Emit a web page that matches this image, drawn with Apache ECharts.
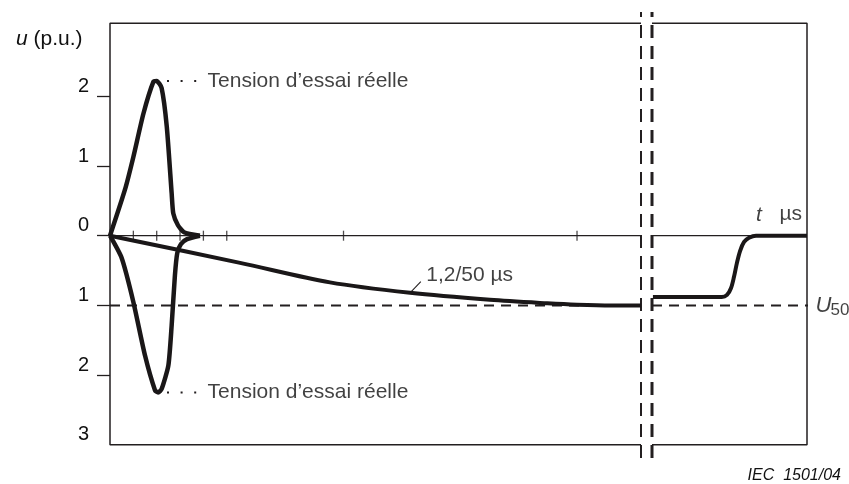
<!DOCTYPE html>
<html>
<head>
<meta charset="utf-8">
<script src="https://cdn.jsdelivr.net/npm/echarts@6/dist/echarts.min.js"></script>
<style>
  html, body { margin: 0; padding: 0; background: #ffffff; }
  #chart { width: 849px; height: 484px; }
</style>
</head>
<body>
<div id="chart"></div>
<script>
// ---------- data ----------
// left panel: time in µs, voltage in p.u.
const leftTMax = 22.74;
const yTickValues = [2, 1, 0, -1, -2];
const yLabelValues = [2, 1, 0, -1, -2, -3];
const zeroTicksT = [1, 2, 3, 4, 5, 10, 20];

const posTestT = [0, 0.64, 1.0, 1.43, 1.86, 2.0, 2.21, 2.43, 2.64, 2.71, 2.91, 3.17, 3.85];
const posTestU = [0, 0.66, 1.13, 1.75, 2.21, 2.22, 2.12, 1.57, 0.61, 0.32, 0.15, 0.05, 0];

const negTestT = [0, 0.5, 1.0, 1.5, 1.93, 2.06, 2.21, 2.5, 2.64, 2.78, 2.88, 3.04, 3.30, 3.85];
const negTestU = [0, -0.32, -0.95, -1.72, -2.22, -2.25, -2.20, -1.86, -1.29, -0.57, -0.25, -0.12, -0.05, 0];

const impulseT = [0, 5.57, 9.42, 12.85, 16.27, 18.72, 20.0, 21.5, 22.74];
const impulseU = [0, -0.39, -0.67, -0.82, -0.92, -0.97, -0.99, -1.0, -1.0];

// right panel (after the time break): arbitrary time units
const rightTMax = 10;
const lateT = [0.06, 4.5, 4.84, 5.10, 5.29, 5.48, 5.68, 5.94, 6.26, 6.71, 10];
const lateU = [-0.88, -0.88, -0.85, -0.75, -0.59, -0.39, -0.22, -0.09, -0.03, 0, 0];

const u50 = -1;
const frameTop = 3.05, frameBottom = -3;
const yMin = -3.19, yMax = 3.21;

const labelTest = 'Tension d’essai réelle';
const labelImpulse = '1,2/50 µs';

// ---------- helpers ----------
const FONT = '"Liberation Sans", Arial, sans-serif';
const INK = '#231f20';
const TXT = '#111111';
const zip = (a, b) => a.map((v, i) => [v, b[i]]);

function seg(data, grid, style, z) {
  return {
    type: 'line', xAxisIndex: grid, yAxisIndex: grid, data: data,
    symbol: 'none', silent: true, clip: false, animation: false, z: z || 2,
    lineStyle: Object.assign({ color: INK, width: 1.5 }, style)
  };
}
function textPoint(pt, grid, label) {
  return {
    type: 'scatter', xAxisIndex: grid, yAxisIndex: grid, symbolSize: 1,
    itemStyle: { color: 'rgba(0,0,0,0)' }, silent: true, animation: false, z: 5,
    data: [{ value: pt, label: Object.assign({
      show: true, color: TXT, fontFamily: FONT, fontSize: 21
    }, label) }]
  };
}

const series = [
  // frame, left panel
  seg([[leftTMax, frameTop], [0, frameTop], [0, frameBottom], [leftTMax, frameBottom]], 0, { width: 1.5 }),
  // frame, right panel
  seg([[0, frameTop], [rightTMax, frameTop], [rightTMax, frameBottom], [0, frameBottom]], 1, { width: 1.5 }),
  // break lines
  seg([[leftTMax, yMin], [leftTMax, yMax]], 0, { width: 2, type: [13, 8] }),
  seg([[0, yMin], [0, yMax]], 1, { width: 3, type: [13, 8] }),
  // zero lines
  seg([[0, 0], [leftTMax, 0]], 0, { width: 1.3 }),
  seg([[0, 0], [rightTMax, 0]], 1, { width: 1.3 }),
  // U50 level
  seg([[0, u50], [leftTMax, u50]], 0, { width: 2, type: [10, 7] }),
  seg([[0, u50], [rightTMax + 0.2, u50]], 1, { width: 2, type: [10, 7] }),
  // time ticks on the zero line
  {
    type: 'scatter', xAxisIndex: 0, yAxisIndex: 0, silent: true, animation: false,
    symbol: 'rect', symbolSize: [1.3, 10], itemStyle: { color: INK }, z: 3,
    data: zeroTicksT.map(t => [t, 0])
  },
  // curves
  Object.assign(seg(zip(impulseT, impulseU), 0, { width: 4, color: '#1a1718' }, 4), { smooth: 0.3 }),
  Object.assign(seg(zip(posTestT, posTestU), 0, { width: 4.5, join: 'round', color: '#1a1718' }, 4), { smooth: 0.2 }),
  Object.assign(seg(zip(negTestT, negTestU), 0, { width: 4.5, join: 'round', color: '#1a1718' }, 4), { smooth: 0.2 }),
  Object.assign(seg(zip(lateT, lateU), 1, { width: 4, color: '#1a1718' }, 4), { smooth: 0.3 }),
  // dotted leaders to labels
  seg([[2.441, 2.22], [3.77, 2.22]], 0, { width: 2, type: [2, 11.6] }),
  seg([[2.441, -2.25], [3.77, -2.25]], 0, { width: 2, type: [2, 11.6] }),
  seg([[12.85, -0.82], [13.31, -0.66]], 0, { width: 1.1 }),
  // labels
  textPoint([3.77, 2.22], 0, { position: 'right', distance: 9, formatter: labelTest }),
  textPoint([3.77, -2.25], 0, { position: 'right', distance: 9, formatter: labelTest }),
  textPoint([13.31, -0.66], 0, { position: 'right', distance: 5, offset: [0, -6], formatter: labelImpulse }),
  textPoint([9.68, 0], 1, {
    position: 'top', align: 'right', distance: 10,
    formatter: '{i|t}   µs',
    rich: { i: { fontStyle: 'italic', fontSize: 21, fontFamily: FONT, color: TXT } }
  }),
  textPoint([rightTMax, u50], 1, { position: 'right', distance: 8, fontStyle: 'italic', fontSize: 22, formatter: 'U' }),
  textPoint([rightTMax, u50], 1, { position: 'right', distance: 23, offset: [0, 5], fontSize: 17, formatter: '50' })
];

const hiddenAxis = {
  axisLine: { show: false }, axisTick: { show: false },
  axisLabel: { show: false }, splitLine: { show: false }
};

const chart = echarts.init(document.getElementById('chart'), null, { renderer: 'canvas' });
chart.setOption({
  animation: false,
  backgroundColor: '#ffffff',
  title: [
    {
      text: '{i|u} (p.u.)', left: 11, top: 24,
      textStyle: {
        fontFamily: FONT, fontSize: 21, fontWeight: 'normal', color: TXT,
        rich: { i: { fontStyle: 'italic', fontFamily: FONT, fontSize: 21, color: TXT } }
      }
    },
    {
      text: 'IEC  1501/04', right: 3, top: 463,
      textStyle: { fontFamily: FONT, fontSize: 16, fontWeight: 'normal', fontStyle: 'italic', color: TXT }
    }
  ],
  grid: [
    { left: 110, top: 12, width: 531, height: 446 },
    { left: 652, top: 12, width: 155, height: 446 }
  ],
  xAxis: [
    Object.assign({ type: 'value', gridIndex: 0, min: 0, max: leftTMax }, hiddenAxis),
    Object.assign({ type: 'value', gridIndex: 1, min: 0, max: rightTMax }, hiddenAxis)
  ],
  yAxis: [
    {
      type: 'value', gridIndex: 0, min: yMin, max: yMax,
      axisLine: { show: false },
      splitLine: { show: false },
      axisTick: {
        show: true, customValues: yTickValues, length: 13,
        lineStyle: { color: INK, width: 1.3 }
      },
      axisLabel: {
        show: true, customValues: yLabelValues, margin: 21,
        formatter: v => String(Math.abs(v)),
        fontFamily: FONT, fontSize: 20, color: TXT,
        verticalAlign: 'bottom', lineHeight: 20
      }
    },
    Object.assign({ type: 'value', gridIndex: 1, min: yMin, max: yMax }, hiddenAxis)
  ],
  series: series
});
</script>
</body>
</html>
